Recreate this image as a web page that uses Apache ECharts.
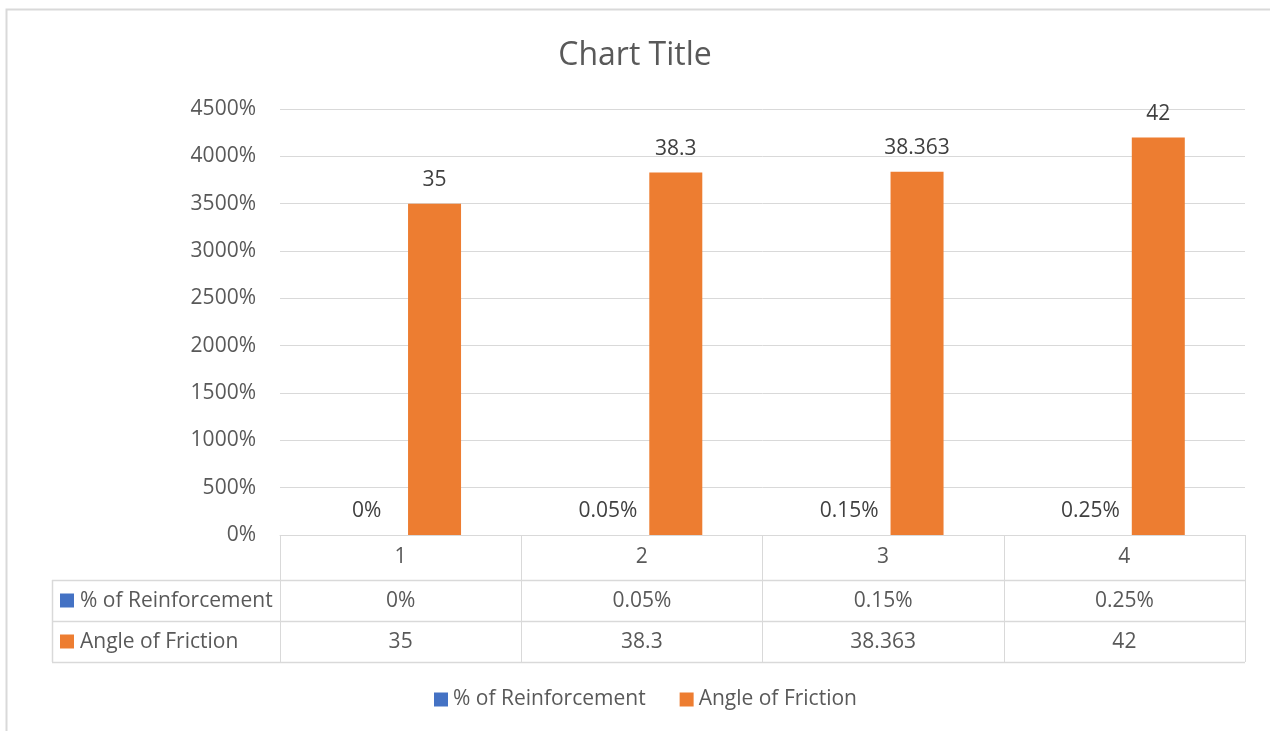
<!DOCTYPE html>
<html>
<head>
<meta charset="utf-8">
<style>
  html, body { margin: 0; padding: 0; background: #ffffff; }
  #chart { width: 1270px; height: 731px; }
</style>
<script src="https://cdn.jsdelivr.net/npm/echarts@6/dist/echarts.min.js"></script>
</head>
<body>
<div id="chart"></div>
<script>
// Categories (sample number) and the two series shown in the chart and data table
const categories = ['1', '2', '3', '4'];
const seriesNames = ['% of Reinforcement', 'Angle of Friction'];
const reinforcementPct = [0, 0.05, 0.15, 0.25];    // in percent
const angleOfFriction = [35, 38.3, 38.363, 42];     // degrees, plotted on the % axis
const yTicks = { min: 0, max: 45, interval: 5 };    // 0% .. 4500%

const BLUE = '#4472C4';
const ORANGE = '#ED7D31';
const GRIDC = '#d9d9d9';
const TXT = '#595959';
const FONT = '"Open Sans", "Noto Sans", sans-serif';
const FS = 21;

const fmtPct = v => (Math.round(v * 100 * 1000) / 1000) + '%';

const chart = echarts.init(document.getElementById('chart'));

const option = {
  animation: false,
  backgroundColor: '#ffffff',
  textStyle: { fontFamily: FONT },
  title: {
    text: 'Chart Title',
    left: 'center',
    top: 35,
    textStyle: { fontFamily: FONT, fontSize: 32, fontWeight: 'normal', color: TXT }
  },
  legend: {
    bottom: 16,
    left: 429,
    itemWidth: 14,
    itemHeight: 14,
    itemGap: 34,
    icon: 'rect',
    data: seriesNames,
    textStyle: { fontFamily: FONT, fontSize: FS, color: TXT }
  },
  grid: { left: 280, right: 25, top: 109, bottom: 196, containLabel: false },
  xAxis: {
    type: 'category',
    data: categories,
    axisLine: { show: true, lineStyle: { color: GRIDC, width: 1 } },
    axisTick: { show: true, length: 127, lineStyle: { color: GRIDC, width: 1 } },
    axisLabel: { fontFamily: FONT, fontSize: FS, color: TXT, margin: 12 }
  },
  yAxis: {
    type: 'value',
    min: yTicks.min,
    max: yTicks.max,
    interval: yTicks.interval,
    axisLine: { show: false },
    axisTick: { show: false },
    splitLine: { lineStyle: { color: GRIDC, width: 1 } },
    axisLabel: {
      fontFamily: FONT, fontSize: FS, color: TXT, margin: 24,
      formatter: v => fmtPct(v)
    }
  },
  series: [
    {
      name: seriesNames[0],
      type: 'bar',
      data: reinforcementPct.map(p => p / 100),
      itemStyle: { color: BLUE },
      barWidth: 53,
      barGap: '28%',
      label: {
        show: true, position: 'top', distance: 13,
        fontFamily: FONT, fontSize: FS, color: '#404040',
        formatter: p => reinforcementPct[p.dataIndex] + '%'
      }
    },
    {
      name: seriesNames[1],
      type: 'bar',
      data: angleOfFriction,
      itemStyle: { color: ORANGE },
      barWidth: 53,
      barGap: '28%',
      label: {
        show: true, position: 'top', distance: 13,
        fontFamily: FONT, fontSize: FS, color: '#404040',
        formatter: p => String(angleOfFriction[p.dataIndex])
      }
    }
  ]
};

chart.setOption(option);

// Data table under the axis, laid out from the category axis scale
function buildTable() {
  const rows = [reinforcementPct.map(p => p + '%'), angleOfFriction.map(String)];
  const colors = [BLUE, ORANGE];
  const x0 = chart.convertToPixel({ xAxisIndex: 0 }, categories[0]);
  const x1 = chart.convertToPixel({ xAxisIndex: 0 }, categories[1]);
  const band = x1 - x0;
  const leftEdge = x0 - band / 2;
  const rightEdge = leftEdge + band * categories.length;
  const axisY = chart.convertToPixel({ yAxisIndex: 0 }, 0);
  const rowTop = axisY + 45;
  const rowH = 41;
  const labelLeft = 52;
  const els = [];

  // outer frame of the chart area
  els.push({ type: 'rect', silent: true, shape: { x: 6.5, y: 9.5, width: 1400, height: 900 },
    style: { fill: null, stroke: GRIDC, lineWidth: 2 } });

  for (let r = 0; r <= rows.length; r++) {
    const y = Math.round(rowTop + r * rowH) + 0.5;
    els.push({ type: 'line', silent: true, shape: { x1: labelLeft, y1: y, x2: rightEdge, y2: y },
      style: { stroke: GRIDC, lineWidth: 1.5 } });
  }
  els.push({ type: 'line', silent: true,
    shape: { x1: labelLeft + 0.5, y1: rowTop, x2: labelLeft + 0.5, y2: rowTop + rowH * rows.length },
    style: { stroke: GRIDC, lineWidth: 1.5 } });

  rows.forEach((vals, r) => {
    const cy = rowTop + r * rowH + rowH / 2 + 1;
    els.push({ type: 'rect', silent: true, shape: { x: 60, y: cy - 8, width: 14, height: 14 },
      style: { fill: colors[r] } });
    els.push({ type: 'text', silent: true, x: 80, y: cy,
      style: { text: seriesNames[r], font: FS + 'px ' + FONT, fill: TXT, verticalAlign: 'middle', align: 'left' } });
    vals.forEach((v, c) => {
      const cx = chart.convertToPixel({ xAxisIndex: 0 }, categories[c]);
      els.push({ type: 'text', silent: true, x: cx, y: cy,
        style: { text: v, font: FS + 'px ' + FONT, fill: TXT, verticalAlign: 'middle', align: 'center' } });
    });
  });
  chart.setOption({ graphic: els });
}
buildTable();
</script>
</body>
</html>
